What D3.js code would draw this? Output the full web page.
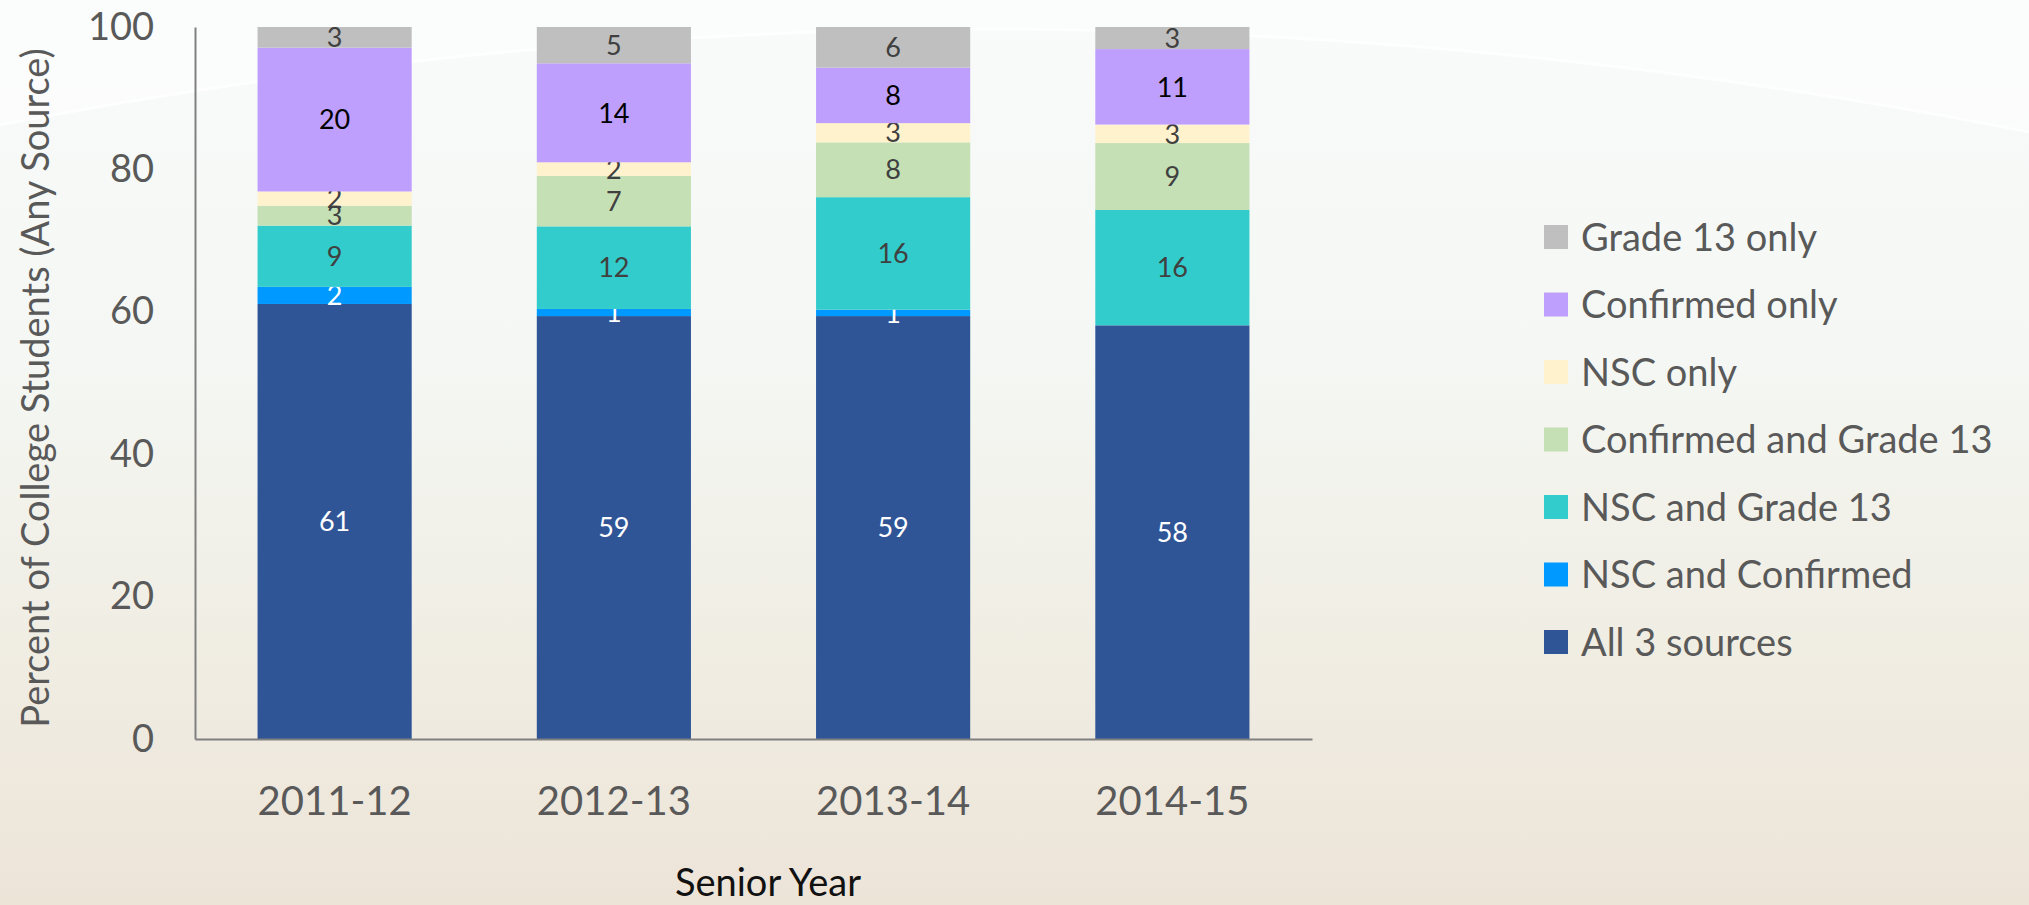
<!DOCTYPE html>
<meta charset="utf-8">
<style>
  body { margin: 0; }
  svg text { font-family: Lato, 'Open Sans', sans-serif; }
</style>
<body>
<div id="vis"></div>
<script src="https://cdn.jsdelivr.net/npm/d3@7"></script>
<script>

const width = 2029,
    height = 905;

// data (percent of college students)
const years = ['2011-12', '2012-13', '2013-14', '2014-15'];
const seriesNames = ['All 3 sources', 'NSC and Confirmed', 'NSC and Grade 13',
  'Confirmed and Grade 13', 'NSC only', 'Confirmed only', 'Grade 13 only'];
const all3 = [61.1, 59.4, 59.4, 58.1];
const nscConfirmed = [2.4, 1.0, 0.9, 0];
const nscGrade13 = [8.6, 11.6, 15.8, 16.2];
const confirmedGrade13 = [2.8, 7.1, 7.7, 9.4];
const nscOnly = [2.0, 1.9, 2.7, 2.6];
const confirmedOnly = [20.2, 13.9, 7.8, 10.6];
const grade13Only = [2.9, 5.1, 5.7, 3.1];
const yTicks = [0, 20, 40, 60, 80, 100];

const seriesValues = [all3, nscConfirmed, nscGrade13, confirmedGrade13, nscOnly, confirmedOnly, grade13Only];

const colors = {
  'All 3 sources': '#2f5597',
  'NSC and Confirmed': '#0099ff',
  'NSC and Grade 13': '#33cccc',
  'Confirmed and Grade 13': '#c5e0b4',
  'NSC only': '#fff2cc',
  'Confirmed only': '#bf9ffe',
  'Grade 13 only': '#bfbfbf'
};
const labelColors = {
  'All 3 sources': '#ffffff',
  'NSC and Confirmed': '#ffffff',
  'NSC and Grade 13': '#404040',
  'Confirmed and Grade 13': '#404040',
  'NSC only': '#404040',
  'Confirmed only': '#000000',
  'Grade 13 only': '#404040'
};

const rows = years.map((yr, i) => {
  let r = {year: yr};
  seriesNames.forEach((s, j) => { r[s] = seriesValues[j][i]; });
  return r;
});

const svg = d3.select('#vis').append('svg')
    .attr('width', width)
    .attr('height', height);

// background
const defs = svg.append('defs');
const grad = defs.append('linearGradient')
    .attr('id', 'bg')
    .attr('x1', 0).attr('y1', 0).attr('x2', 0).attr('y2', 1);
grad.append('stop').attr('offset', '0%').attr('stop-color', '#f8fbfa');
grad.append('stop').attr('offset', '40%').attr('stop-color', '#f4f7f3');
grad.append('stop').attr('offset', '72%').attr('stop-color', '#f0ede3');
grad.append('stop').attr('offset', '100%').attr('stop-color', '#ede4d8');
svg.append('rect')
    .attr('width', width)
    .attr('height', height)
    .style('fill', 'url(#bg)');
svg.append('path')
    .attr('d', 'M0,125 Q1000,-70 2029,132 L2029,0 L0,0 Z')
    .style('fill', '#ffffff')
    .style('opacity', 0.45);
svg.append('path')
    .attr('d', 'M0,125 Q1000,-70 2029,132')
    .style('fill', 'none')
    .style('stroke', '#ffffff')
    .style('stroke-width', 3)
    .style('opacity', 0.7);

const x = d3.scaleBand()
    .domain(years)
    .range([195, 1312])
    .paddingInner(0.448)
    .paddingOuter(0.224);

const y = d3.scaleLinear()
    .domain([0, 100])
    .range([739, 27]);

const stacked = d3.stack().keys(seriesNames)(rows);

const chartG = svg.append('g').attr('class', 'chart-group');

const layer = chartG.selectAll('.layer')
    .data(stacked)
    .enter().append('g')
    .attr('class', 'layer')
    .style('fill', d => colors[d.key]);

layer.selectAll('rect')
    .data(d => d)
    .enter().append('rect')
    .attr('x', d => x(d.data.year))
    .attr('width', x.bandwidth())
    .attr('y', d => y(d[1]))
    .attr('height', d => y(d[0]) - y(d[1]));

layer.selectAll('.seg-label')
    .data(d => d.map(v => ({key: d.key, v: v})).filter(o => o.v[1] - o.v[0] > 0))
    .enter().append('text')
    .attr('class', 'seg-label')
    .attr('x', o => x(o.v.data.year) + x.bandwidth() / 2)
    .attr('y', o => y((o.v[0] + o.v[1]) / 2))
    .attr('dy', '0.36em')
    .style('text-anchor', 'middle')
    .style('font-size', '27px')
    .style('fill', o => labelColors[o.key])
    .text(o => Math.round(o.v[1] - o.v[0]));

// axes
const yAxisG = svg.append('g')
    .attr('transform', 'translate(195,0)')
    .call(d3.axisLeft(y).tickValues(yTicks).tickSize(0).tickPadding(41));
const xAxisG = svg.append('g')
    .attr('transform', 'translate(0,739)')
    .call(d3.axisBottom(x).tickSize(0).tickSizeOuter(0).tickPadding(48));

[yAxisG, xAxisG].forEach(g => {
  g.select('.domain').style('stroke', '#808080').style('stroke-width', 2);
  g.selectAll('text').style('fill', '#595959').style('font-family', 'Lato, sans-serif');
});
yAxisG.selectAll('text').style('font-size', '38px');
xAxisG.selectAll('text').style('font-size', '40px');

svg.append('text')
    .attr('transform', 'translate(35,388) rotate(-90)')
    .attr('dy', '0.36em')
    .style('text-anchor', 'middle')
    .style('font-size', '38px')
    .style('fill', '#595959')
    .text('Percent of College Students (Any Source)');

svg.append('text')
    .attr('x', 768)
    .attr('y', 882)
    .attr('dy', '0.36em')
    .style('text-anchor', 'middle')
    .style('font-size', '38px')
    .style('fill', '#111111')
    .text('Senior Year');

// legend, top entry = last stacked series
const legendG = svg.append('g').attr('class', 'legend');
const legendItems = seriesNames.slice().reverse();
const item = legendG.selectAll('.legend-item')
    .data(legendItems)
    .enter().append('g')
    .attr('class', 'legend-item')
    .attr('transform', (d, i) => 'translate(1544,' + (237 + i * 67.5) + ')');
item.append('rect')
    .attr('y', -12)
    .attr('width', 24)
    .attr('height', 24)
    .style('fill', d => colors[d]);
item.append('text')
    .attr('x', 37)
    .attr('dy', '0.36em')
    .style('font-size', '38px')
    .style('fill', '#595959')
    .text(d => d);

</script>
</body>
